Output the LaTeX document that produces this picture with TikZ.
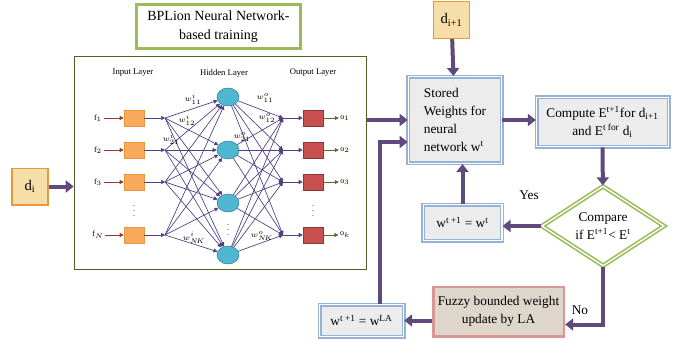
\documentclass[tikz,border=0pt]{standalone}
\usepackage{fontspec}
\setmainfont{Liberation Serif}
\usepackage{tikz}
\usetikzlibrary{
  positioning,
  arrows.meta,
  calc,
  shapes.geometric
}
\usepackage{xcolor}
\definecolor{titlegreen}{HTML}{9BBB59}
\definecolor{framegreen}{HTML}{4F6228}
\definecolor{flowpurple}{HTML}{604A7B}
\definecolor{nnpurple}{HTML}{4F3F86}
\definecolor{boxblue}{HTML}{95B3D7}
\definecolor{boxgray}{HTML}{ECECEC}
\definecolor{dfill}{HTML}{F7DDA8}
\definecolor{dorange}{HTML}{E59A3D}
\definecolor{inorange}{HTML}{F8A95C}
\definecolor{hidcyan}{HTML}{4FB7D2}
\definecolor{outred}{HTML}{C9504F}
\definecolor{fuzzbrd}{HTML}{D99694}
\definecolor{fuzzfill}{HTML}{DED6CA}
\definecolor{farrow}{HTML}{943634}
\definecolor{oarrow}{HTML}{5B6B2A}

\begin{document}
\begin{tikzpicture}[
  x=0.75pt, y=-0.75pt,
  flow/.style={-{Triangle[length=6pt,width=9pt]}, line width=3pt, flowpurple},
  wbox/.style={draw=boxblue, line width=1pt, double=white, double distance=1pt,
               fill=boxgray, font=\fontsize{10}{13.5}\selectfont, align=center, inner sep=2pt},
  dbox/.style={draw=dorange, line width=1pt, fill=dfill, minimum width=27pt,
               minimum height=27.5pt, font=\fontsize{11}{13}\selectfont},
  inbox/.style={draw=dorange, fill=inorange, minimum width=15pt, minimum height=12pt, inner sep=0pt},
  outbox/.style={draw=outred!70!black, fill=outred, minimum width=15pt, minimum height=12pt, inner sep=0pt},
  hid/.style={ellipse, draw=hidcyan!70!black, fill=hidcyan, minimum width=16.5pt,
              minimum height=13.5pt, inner sep=0pt},
  lay/.style={font=\fontsize{6.5}{8}\selectfont},
  flab/.style={font=\fontsize{6}{7}\selectfont, inner sep=1pt},
  wlab/.style={font=\fontsize{6}{7}\selectfont, inner sep=0pt},
  link/.style={nnpurple, line width=0.5pt, -{Triangle[length=3pt,width=3pt]}},
  farr/.style={farrow, line width=0.6pt, -{Triangle[length=3pt,width=3pt]}},
  oarr/.style={oarrow, line width=0.6pt, -{Triangle[length=3pt,width=3pt]}},
  lbl/.style={font=\fontsize{10}{12}\selectfont}
]
  \useasboundingbox (0,0) rectangle (681,339);

  % Title and network frame
  \node[draw=titlegreen, line width=2.5pt, minimum width=123pt, minimum height=33pt,
        align=center, font=\fontsize{10.5}{14}\selectfont] (title) at (218.5,26.5)
        {BPLion Neural Network-\\based training};
  \node[draw=framegreen, line width=1.2pt, minimum width=219pt, minimum height=160pt] (nnframe) at (220.5,163) {};

  \node[lay] (inlay) at (133,73) {Input Layer};
  \node[lay] (hidlay) at (224,73) {Hidden Layer};
  \node[lay] (outlay) at (313,73) {Output Layer};

  % Hidden layer
  \foreach \j/\y in {1/97, 2/150, 3/203, 4/255}
    \node[hid] (h\j) at (228,\y) {};

  % Input and output rows
  \foreach \i/\y/\fl/\ol in {1/118/f$_1$/o$_1$, 2/150/f$_2$/o$_2$, 3/182/f$_3$/o$_3$, 4/235/f$_N$/o$_k$} {
    \node[flab] (f\i) at (98,\y) {\fl};
    \node[inbox] (in\i) at (134,\y) {};
    \coordinate (ji\i) at (165,\y);
    \coordinate (jo\i) at (283,\y);
    \node[outbox] (out\i) at (313,\y) {};
    \node[flab] (o\i) at (345,\y) {\ol};
    \draw[farr] (f\i) -- (in\i);
    \draw[link] (in\i) -- (ji\i);
    \draw[link] (jo\i) -- (out\i);
    \draw[oarr] (out\i) -- (o\i);
  }

  % Weights
  \foreach \i in {1,...,4}
    \foreach \j in {1,...,4} {
      \draw[link] (ji\i) -- (h\j);
      \draw[link] (h\j) -- (jo\i);
    }

  \node[flab] (vin) at (134,207) {$\vdots$};
  \node[flab] (vhid) at (228,226) {$\vdots$};
  \node[flab] (vout) at (313,207) {$\vdots$};

  \node[wlab] (wi11) at (193,99) {$w^{i}_{11}$};
  \node[wlab] (wi12) at (187,120) {$w^{i}_{12}$};
  \node[wlab] (wi21) at (171,139) {$w^{i}_{21}$};
  \node[wlab] (wink) at (194,238) {$w^{i}_{N\!K}$};
  \node[wlab] (wo11) at (265,98) {$w^{o}_{11}$};
  \node[wlab] (wo12) at (267,118) {$w^{o}_{12}$};
  \node[wlab] (wo21) at (242,137) {$w^{o}_{21}$};
  \node[wlab] (wonk) at (262,236) {$w^{o}_{N\!K}$};

  % Data inputs
  \node[dbox] (di) at (30,186.5) {d\textsubscript{i}};
  \node[dbox] (dnext) at (451.5,20) {d\textsubscript{i+1}};

  % Flow boxes
  \node[wbox, align=left, minimum width=70pt, minimum height=65pt] (stored) at (455,120)
    {Stored\\Weights for\\neural\\network w\textsuperscript{t}};
  \node[wbox, minimum width=99pt, minimum height=37pt] (compute) at (602.5,122)
    {Compute E\textsuperscript{t+1}for d\textsubscript{i+1}\\and E\textsuperscript{t for} d\textsubscript{i}};
  \node[diamond, aspect=1.5, draw=titlegreen, line width=1.2pt, double=white, double distance=1pt,
        fill=white, minimum width=92pt, minimum height=60pt, inner sep=0pt, align=center,
        font=\fontsize{10}{13}\selectfont] (cmp) at (603,226)
    {Compare\\if E\textsuperscript{t+1}< E\textsuperscript{t}};
  \node[wbox, minimum width=59pt, minimum height=27pt] (wt) at (462.5,222.5)
    {w\textsuperscript{t +1} = w\textsuperscript{t}};
  \node[draw=fuzzbrd, line width=2pt, fill=fuzzfill, minimum width=98pt, minimum height=37pt,
        align=center, font=\fontsize{10}{13.5}\selectfont] (fuzzy) at (498.5,311.5)
    {Fuzzy bounded weight\\update by LA};
  \node[wbox, minimum width=63pt, minimum height=24pt] (wla) at (361.5,320.5)
    {w\textsuperscript{t +1} = w\textsuperscript{LA}};

  \node[lbl] (yes) at (529,195) {Yes};
  \node[lbl] (no) at (580,310) {No};

  % Connectors
  \draw[flow] (di.east) -- (di.east -| nnframe.west);
  \draw[flow] (nnframe.east |- stored.west) -- (stored.west);
  \coordinate (wlaup) at ($(wla.north)+(18.5,0)$);
  \draw[flow] (wlaup) |- ($(stored.west)+(0,22)$);
  \draw[flow] (dnext) -- (stored);
  \draw[flow] (stored.east) -- (stored.east -| compute.west);
  \draw[flow] (compute) -- (cmp);
  \draw[flow] (cmp.west) -- (cmp.west -| wt.east);
  \draw[flow] (wt.north) -- (wt.north |- stored.south);
  \draw[flow] (cmp.south) |- ($(fuzzy.east)+(0,13)$);
  \draw[flow] (fuzzy.west |- wla) -- (wla.east);
\end{tikzpicture}
\end{document}
